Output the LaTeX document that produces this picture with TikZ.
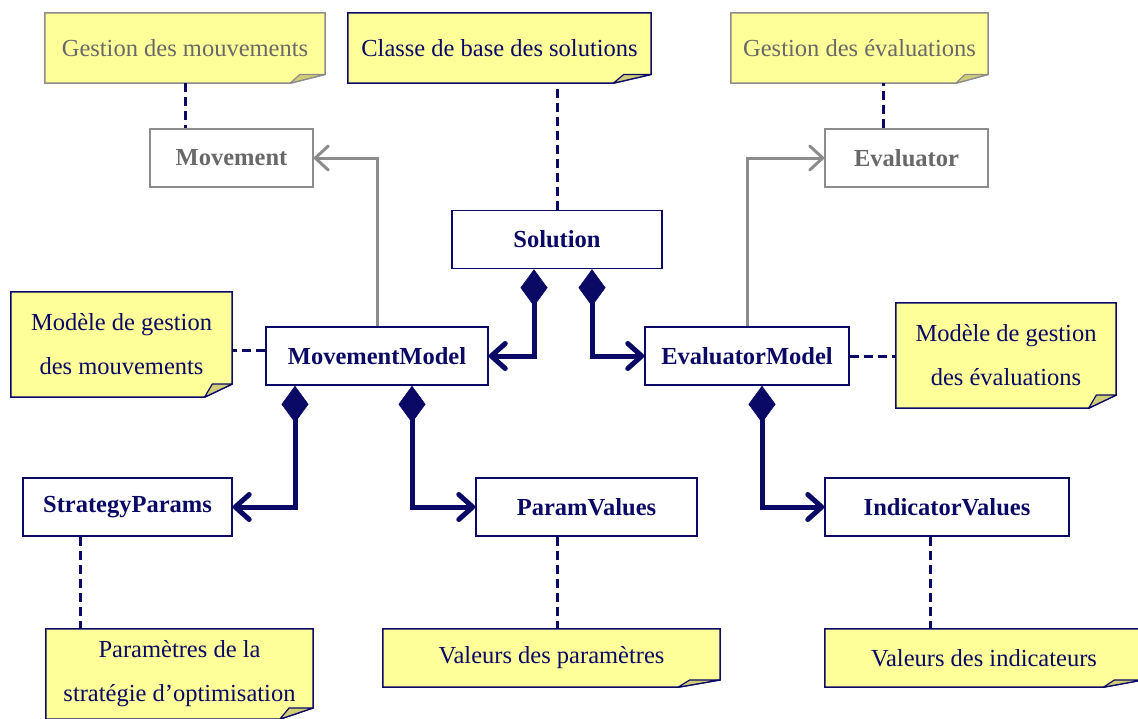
\documentclass[tikz,border=0pt]{standalone}
\usepackage{fontspec}
\setmainfont{Liberation Serif}
\usetikzlibrary{arrows.meta,calc,backgrounds}

\definecolor{navy}{RGB}{10,10,102}
\definecolor{umlgrey}{RGB}{140,140,140}
\definecolor{greytext}{RGB}{105,105,105}
\definecolor{noteyellow}{RGB}{255,255,153}
\definecolor{notefold}{RGB}{208,204,120}

\tikzset{
  every node/.style={font=\fontsize{24.5}{44}\selectfont, inner sep=0pt},
  classbox/.style={draw=navy, line width=1.5pt, fill=white, text=navy,
    font=\fontsize{24.5}{44}\selectfont\bfseries, minimum height=58pt},
  greybox/.style={classbox, draw=umlgrey, text=greytext},
  note/.style={text=navy, align=center},
  greynote/.style={text=greytext, align=center},
  notelink/.style={draw=navy, line width=3pt, dash pattern=on 9pt off 5pt},
  inherit/.style={draw=umlgrey, line width=3pt,
    -{Straight Barb[length=13pt,width=24pt,round]}},
  compose/.style={draw=navy, line width=5pt, line join=miter,
    {Diamond[length=37pt,width=27pt,line width=0.5pt]}-{Straight Barb[length=14pt,width=25pt,round]}},
}

% Folded-corner outline drawn behind a note node
\newcommand\noteoutline[2]{%
  \begin{scope}[on background layer]
    \coordinate (#1-a) at ($(#1.south east)!0.125!(#1.south west)$);
    \coordinate (#1-b) at ($(#1.south east)!0.125!(#1.north east)$);
    \coordinate (#1-c) at ($(#1-b)!0.72!(#1-b -| #1-a)$);
    \path[draw=#2, fill=noteyellow, line width=1.5pt]
      (#1.north west) -- (#1.north east) -- (#1-b) -- (#1-a) -- (#1.south west) -- cycle;
    \path[draw=#2, fill=notefold, line width=1.2pt, line join=round]
      (#1-a) -- (#1-c) -- (#1-b) -- cycle;
  \end{scope}%
}

\begin{document}
\begin{tikzpicture}[x=1pt,y=-1pt]
\useasboundingbox (0,0) rectangle (1138,718);

% Notes
\node[greynote, minimum width=280pt, minimum height=70pt] (n1) at (185,48) {Gestion des mouvements};
\node[note, minimum width=303pt, minimum height=70pt] (n2) at (499.5,48) {Classe de base des solutions};
\node[greynote, minimum width=257pt, minimum height=70pt] (n3) at (859.5,48) {Gestion des évaluations};
\node[note, minimum width=221pt, minimum height=105pt] (n4) at (121.5,344.5) {Modèle de gestion\\des mouvements};
\node[note, minimum width=220pt, minimum height=105pt] (n5) at (1006,355.5) {Modèle de gestion\\des évaluations};
\node[note, minimum width=267pt, minimum height=90pt] (n6) at (179.5,674) {Paramètres de la\\stratégie d’optimisation};
\node[note, minimum width=337pt, minimum height=58pt] (n7) at (551.5,658) {Valeurs des paramètres};
\node[note, minimum width=318pt, minimum height=58pt] (n8) at (984,658) {Valeurs des indicateurs};
\noteoutline{n1}{umlgrey}
\noteoutline{n2}{navy}
\noteoutline{n3}{umlgrey}
\noteoutline{n4}{navy}
\noteoutline{n5}{navy}
\noteoutline{n6}{navy}
\noteoutline{n7}{navy}
\noteoutline{n8}{navy}

% Classes
\node[greybox, minimum width=163pt] (Movement) at (231.5,158) {Movement};
\node[classbox, minimum width=210pt] (Solution) at (557,239.5) {Solution};
\node[greybox, minimum width=163pt] (Evaluator) at (906.5,158) {Evaluator};
\node[classbox, minimum width=222pt] (MovementModel) at (377,356) {MovementModel};
\node[classbox, minimum width=204pt] (EvaluatorModel) at (747,356) {EvaluatorModel};
\node[classbox, minimum width=209pt] (StrategyParams) at (127.5,507) {StrategyParams};
\node[classbox, minimum width=221pt] (ParamValues) at (586.5,507) {ParamValues};
\node[classbox, minimum width=244pt] (IndicatorValues) at (947,507) {IndicatorValues};

% Note links
\draw[notelink] (n1.south) -- (n1.south |- Movement.north);
\draw[notelink] (Solution.north) -- (Solution.north |- n2.south);
\draw[notelink] ([xshift=-23.5pt]Evaluator.north) -- ([xshift=-23.5pt]Evaluator.north |- n3.south);
\draw[notelink] ([yshift=6pt]MovementModel.west) -- ([yshift=6pt]MovementModel.west -| n4.east);
\draw[notelink] (EvaluatorModel.east) -- (EvaluatorModel.east -| n5.west);
\draw[notelink] ([xshift=-47.5pt]StrategyParams.south) -- ([xshift=-47.5pt]StrategyParams.south |- n6.north);
\draw[notelink] ([xshift=-29.5pt]ParamValues.south) -- ([xshift=-29.5pt]ParamValues.south |- n7.north);
\draw[notelink] ([xshift=-17pt]IndicatorValues.south) -- ([xshift=-17pt]IndicatorValues.south |- n8.north);

% Generalisations
\draw[inherit] (MovementModel.north) |- (Movement.east);
\draw[inherit] (EvaluatorModel.north) |- (Evaluator.west);

% Compositions
\draw[compose] ([xshift=-23pt]Solution.south) |- (MovementModel.east);
\draw[compose] ([xshift=35pt]Solution.south) |- (EvaluatorModel.west);
\draw[compose] ([xshift=-82pt]MovementModel.south) |- (StrategyParams.east);
\draw[compose] ([xshift=35pt]MovementModel.south) |- (ParamValues.west);
\draw[compose] ([xshift=15pt]EvaluatorModel.south) |- (IndicatorValues.west);
\end{tikzpicture}
\end{document}
